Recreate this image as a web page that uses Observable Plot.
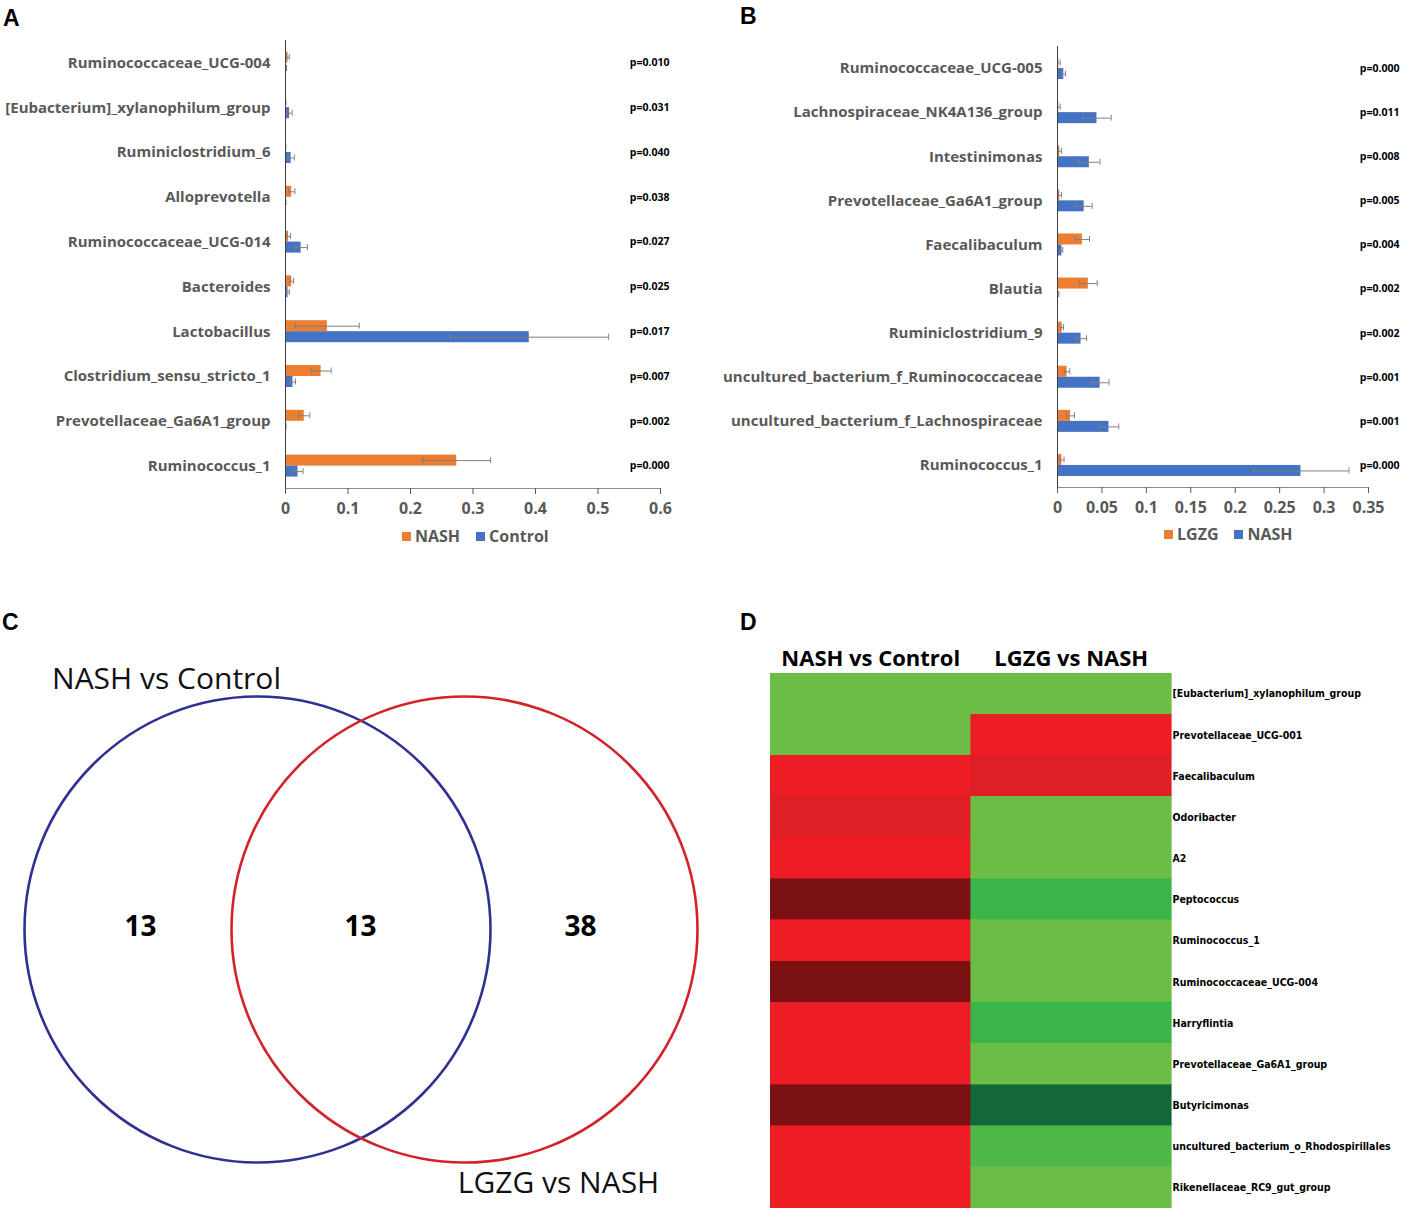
<!DOCTYPE html>
<html>
<head>
<meta charset="utf-8">
<script src="https://cdn.jsdelivr.net/npm/d3@7"></script>
<script src="https://cdn.jsdelivr.net/npm/@observablehq/plot@0.6"></script>
<style>
  body { margin: 0; background: #fff; }
  #page { position: relative; width: 1403px; height: 1208px; overflow: hidden; font-family: "Open Sans", sans-serif; }
  .abs { position: absolute; }
  .letter { font: bold 23px "Liberation Sans", Arial, sans-serif; color: #000; line-height: 1; }
  .legend { display: flex; align-items: center; font: 700 16px "Open Sans", sans-serif; color: #595959; line-height: 1; white-space: nowrap; }
  .legend .sw { display: inline-block; width: 9px; height: 9px; margin-right: 4px; }
  .legend .item { display: inline-flex; align-items: center; margin-right: 16px; }
  svg { max-width: none !important; }
</style>
</head>
<body>
<div id="page"></div>
<script>
// ---------------- Panel A data ----------------
const taxaA = ["Ruminococcaceae_UCG-004", "[Eubacterium]_xylanophilum_group", "Ruminiclostridium_6", "Alloprevotella", "Ruminococcaceae_UCG-014", "Bacteroides", "Lactobacillus", "Clostridium_sensu_stricto_1", "Prevotellaceae_Ga6A1_group", "Ruminococcus_1"];
const groupsA = ["NASH", "Control"];
const nashA = [0.004, 0.0003, 0.0003, 0.010, 0.005, 0.010, 0.067, 0.057, 0.030, 0.274];
const nashErrA = [0.002, 0.0003, 0.0003, 0.005, 0.003, 0.003, 0.051, 0.016, 0.009, 0.054];
const controlA = [0.001, 0.0065, 0.009, 0.0004, 0.025, 0.004, 0.390, 0.012, 0.0005, 0.020];
const controlErrA = [0.0005, 0.004, 0.005, 0.0003, 0.010, 0.002, 0.127, 0.004, 0.0004, 0.008];
const pA = ["p=0.010", "p=0.031", "p=0.040", "p=0.038", "p=0.027", "p=0.025", "p=0.017", "p=0.007", "p=0.002", "p=0.000"];
const ticksA = [0, 0.1, 0.2, 0.3, 0.4, 0.5, 0.6];

// ---------------- Panel B data ----------------
const taxaB = ["Ruminococcaceae_UCG-005", "Lachnospiraceae_NK4A136_group", "Intestinimonas", "Prevotellaceae_Ga6A1_group", "Faecalibaculum", "Blautia", "Ruminiclostridium_9", "uncultured_bacterium_f_Ruminococcaceae", "uncultured_bacterium_f_Lachnospiraceae", "Ruminococcus_1"];
const groupsB = ["LGZG", "NASH"];
const lgzgB = [0.0015, 0.0015, 0.0026, 0.0026, 0.028, 0.0347, 0.0052, 0.0108, 0.0146, 0.0049];
const lgzgErrB = [0.0015, 0.0015, 0.002, 0.002, 0.008, 0.010, 0.0015, 0.003, 0.0045, 0.0025];
const nashB = [0.0071, 0.0444, 0.0358, 0.030, 0.0049, 0.001, 0.0265, 0.048, 0.0579, 0.274];
const nashErrB = [0.002, 0.016, 0.012, 0.009, 0.001, 0.0005, 0.006, 0.010, 0.011, 0.054];
const pB = ["p=0.000", "p=0.011", "p=0.008", "p=0.005", "p=0.004", "p=0.002", "p=0.002", "p=0.001", "p=0.001", "p=0.000"];
const ticksB = [0, 0.05, 0.1, 0.15, 0.2, 0.25, 0.3, 0.35];

const barColors = ["#ed7d31", "#4472c4"];

// ---------------- Panel C data ----------------
const vennSets = ["NASH vs Control", "LGZG vs NASH"];
const vennColors = ["#2e3192", "#d2232a"];
const vennRegions = ["only NASH vs Control", "both", "only LGZG vs NASH"];
const vennCounts = [13, 13, 38];

// ---------------- Panel D data ----------------
const comparisonsD = ["NASH vs Control", "LGZG vs NASH"];
const taxaD = ["[Eubacterium]_xylanophilum_group", "Prevotellaceae_UCG-001", "Faecalibaculum", "Odoribacter", "A2", "Peptococcus", "Ruminococcus_1", "Ruminococcaceae_UCG-004", "Harryflintia", "Prevotellaceae_Ga6A1_group", "Butyricimonas", "uncultured_bacterium_o_Rhodospirillales", "Rikenellaceae_RC9_gut_group"];
const levelNashVsControl = [-1, -1, 1, 1.1, 1, 2, 1, 2, 1, 1, 2, 1, 1];
const levelLgzgVsNash = [-1, 1, 1.1, -1, -1, -2, -1, -1, -2, -1, -3, -1.5, -1];
const heatLevels = [-3, -2, -1.5, -1, 1, 1.1, 2];
const heatColors = ["#13683a", "#3ab54a", "#4eb748", "#6bbd46", "#ec1d25", "#df1f26", "#7b1113"];

// ---------------- helpers ----------------
const page = document.getElementById("page");
function place(el, left, top) {
  const d = document.createElement("div");
  d.className = "abs";
  d.style.left = left + "px";
  d.style.top = top + "px";
  d.appendChild(el);
  page.appendChild(d);
  return d;
}
function html(str, left, top, cls) {
  const d = document.createElement("div");
  d.className = "abs " + (cls || "");
  d.style.left = left + "px";
  d.style.top = top + "px";
  d.innerHTML = str;
  page.appendChild(d);
  return d;
}

function groupedBars(cfg) {
  const {taxa, groups, vals, errs, pvals, ticks, xMax, width, height, mt, mb, ml, mr, labelPad, pdx} = cfg;
  const bh = (height - mt - mb) / taxa.length;
  const barH = 11;
  const marks = [];
  groups.forEach((g, k) => {
    const data = taxa.map((t, i) => ({taxon: t, group: g, value: vals[k][i], err: errs[k][i]}));
    const dy = k === 0 ? -barH / 2 : barH / 2;
    marks.push(Plot.barX(data, {
      x: "value", y: "taxon", fill: barColors[k],
      insetTop: k === 0 ? bh / 2 - barH : bh / 2,
      insetBottom: k === 0 ? bh / 2 : bh / 2 - barH
    }));
    marks.push(Plot.ruleY(data, {
      x1: d => Math.max(0, d.value - d.err), x2: d => d.value + d.err,
      y: "taxon", dy, stroke: "#7f7f7f", strokeWidth: 1
    }));
    for (const side of [-1, 1]) {
      marks.push(Plot.tickX(data, {
        x: d => Math.max(0, d.value + side * d.err), y: "taxon",
        insetTop: bh / 2 + dy - 3, insetBottom: bh / 2 - dy - 3,
        stroke: "#7f7f7f", strokeWidth: 1
      }));
    }
  });
  marks.push(Plot.ruleX([0], {stroke: "#404040", strokeWidth: 1}));
  marks.push(Plot.frame({anchor: "bottom", stroke: "#8c8c8c"}));
  marks.push(Plot.axisX(ticks, {anchor: "bottom", tickSize: 6, tickPadding: 8, tickFormat: d => String(d), label: null, color: "#595959", fontSize: 16, fontWeight: 700}));
  marks.push(Plot.axisY({anchor: "left", tickSize: 0, tickPadding: labelPad, label: null, color: "#595959", fontSize: 15, fontWeight: 700}));
  marks.push(Plot.text(pvals, {y: (d, i) => taxa[i], text: d => d, frameAnchor: "right", textAnchor: "end", dx: pdx, fill: "#000", fontSize: 10.5, fontWeight: 700}));
  return Plot.plot({
    width, height, marginTop: mt, marginBottom: mb, marginLeft: ml, marginRight: mr,
    x: {domain: [0, xMax]},
    y: {domain: taxa, padding: 0, round: false},
    style: {fontFamily: "Open Sans, sans-serif", background: "transparent", overflow: "visible"},
    marks
  });
}

// ---------------- Panel A ----------------
place(groupedBars({
  taxa: taxaA, groups: groupsA, vals: [nashA, controlA], errs: [nashErrA, controlErrA], pvals: pA,
  ticks: ticksA, xMax: 0.6, width: 700, height: 520, mt: 40, mb: 32, ml: 285, mr: 40, labelPad: 15, pdx: 9
}), 0, 0);

// ---------------- Panel B ----------------
place(groupedBars({
  taxa: taxaB, groups: groupsB, vals: [lgzgB, nashB], errs: [lgzgErrB, nashErrB], pvals: pB,
  ticks: ticksB, xMax: 0.35, width: 703, height: 520, mt: 46, mb: 33, ml: 357, mr: 35, labelPad: 15, pdx: 31
}), 700, 0);

// legends
function legend(groups, left, top) {
  const items = groups.map((g, k) => `<span class="item"><span class="sw" style="background:${barColors[k]}"></span>${g}</span>`).join("");
  return html(items, left, top, "legend");
}
legend(groupsA, 402, 528);
legend(groupsB, 1164, 526);

// ---------------- Panel C (Venn) ----------------
const vennDomain = [vennRegions[0], vennSets[0], vennRegions[1], vennSets[1], vennRegions[2]];
const vennShift = [7, -6];
place(Plot.plot({
  width: 720, height: 608, marginTop: 50, marginBottom: 0, marginLeft: 140, marginRight: 140,
  x: {type: "point", domain: vennDomain, padding: 0, axis: null, round: false},
  style: {fontFamily: "Open Sans, sans-serif", background: "transparent", overflow: "visible"},
  marks: [
    ...vennSets.map((s, i) => Plot.dot([s], {x: d => d, r: 233, dx: vennShift[i], dy: 0, stroke: vennColors[i], strokeWidth: 2.6, fill: "none"})),
    Plot.text(vennRegions, {x: d => d, text: (d, i) => String(vennCounts[i]), fontSize: 28, fontWeight: 700, fill: "#000", dy: -2}),
    Plot.text([vennSets[0]], {x: d => d, text: d => d, frameAnchor: "top", lineAnchor: "middle", dx: -84, dy: 29, fontSize: 30, fill: "#111"}),
    Plot.text([vennSets[1]], {x: d => d, text: d => d, frameAnchor: "bottom", lineAnchor: "middle", dx: 88, dy: -25, fontSize: 30, fill: "#111"})
  ]
}), 0, 600);

// ---------------- Panel D (heatmap) ----------------
const cellsD = [];
taxaD.forEach((t, i) => {
  cellsD.push({comparison: comparisonsD[0], taxon: t, level: levelNashVsControl[i]});
  cellsD.push({comparison: comparisonsD[1], taxon: t, level: levelLgzgVsNash[i]});
});
place(Plot.plot({
  width: 643, height: 573, marginTop: 38, marginBottom: 0, marginLeft: 10, marginRight: 232,
  x: {domain: comparisonsD, padding: 0, round: false},
  y: {domain: taxaD, padding: 0, round: false},
  color: {type: "ordinal", domain: heatLevels, range: heatColors},
  style: {fontFamily: "Open Sans, sans-serif", background: "transparent", overflow: "visible"},
  marks: [
    Plot.cell(cellsD, {x: "comparison", y: "taxon", fill: "level", stroke: "level", strokeWidth: 0.6, inset: 0, shapeRendering: "crispEdges"}),
    Plot.axisX({anchor: "top", tickSize: 0, tickPadding: 8, label: null, fontSize: 22, fontWeight: 700, color: "#000"}),
    Plot.axisY({anchor: "right", tickSize: 0, tickPadding: 1, label: null, fontSize: 10.5, fontWeight: 700, color: "#000", fontFamily: "'Liberation Sans Narrow', 'DejaVu Sans Condensed', Arial, sans-serif"})
  ]
}), 760, 635);

// panel letters
html("A", 3, 7, "letter");
html("B", 740, 5, "letter");
html("C", 2, 611, "letter");
html("D", 740, 611, "letter");
</script>
</body>
</html>
